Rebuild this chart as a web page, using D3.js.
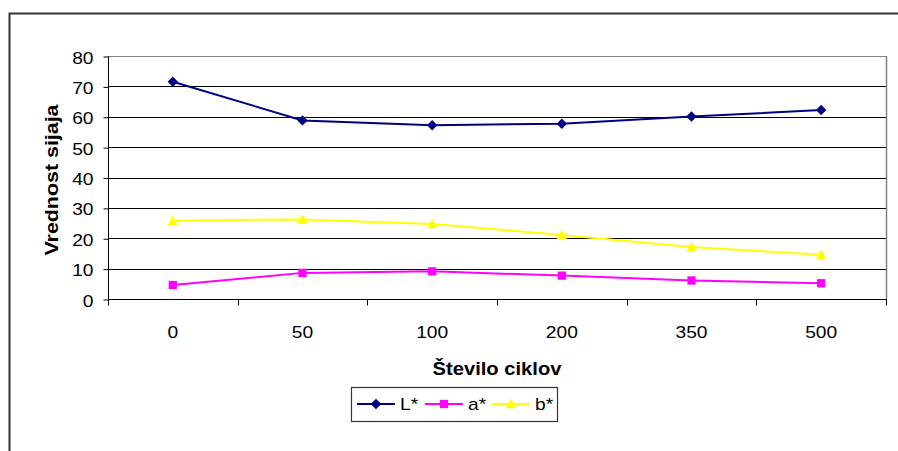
<!DOCTYPE html>
<html>
<head>
<meta charset="utf-8">
<script src="https://cdn.jsdelivr.net/npm/d3@7"></script>
<style>
  html, body { margin: 0; padding: 0; background: #fff; }
  svg { display: block; font-family: Arial, "Liberation Sans", sans-serif; }
</style>
</head>
<body>
<svg id="chart" width="898" height="451"></svg>
<script>
// Number of cleaning cycles (categories) and gloss values per colour coordinate
const cycles = ["0", "50", "100", "200", "350", "500"];
const seriesNames = ["L*", "a*", "b*"];
const valuesL = [71.5, 58.8, 57.2, 57.7, 60.1, 62.2];
const valuesA = [4.6, 8.6, 9.1, 7.7, 6.1, 5.2];
const valuesB = [25.8, 26.2, 24.7, 21.1, 17.1, 14.6];
const yTicks = [0, 10, 20, 30, 40, 50, 60, 70, 80];
const seriesColors = ["#000080", "#ff00ff", "#ffff00"];

// square diamond marker (a square turned 45 degrees)
const squareDiamond = {
  draw(ctx, size) {
    const r = Math.sqrt(size / 2);
    ctx.moveTo(0, -r); ctx.lineTo(r, 0); ctx.lineTo(0, r); ctx.lineTo(-r, 0); ctx.closePath();
  }
};
// upright triangle marker centred on the point
const markerTriangle = {
  draw(ctx, size) {
    const h = Math.sqrt(size);
    ctx.moveTo(0, -h * 0.55); ctx.lineTo(h * 0.55, h * 0.45); ctx.lineTo(-h * 0.55, h * 0.45); ctx.closePath();
  }
};
const seriesSymbols = [squareDiamond, d3.symbolSquare, markerTriangle];
const symbolSizes = [54, 68, 90];

const series = seriesNames.map((name, i) => ({
  name,
  values: [valuesL, valuesA, valuesB][i],
  color: seriesColors[i],
  symbol: seriesSymbols[i],
  size: symbolSizes[i]
}));

const svg = d3.select("#chart");
const plot = { left: 108, right: 886, top: 56, bottom: 299 };
const stretch = 1.2; // glyphs are set with wide advance widths

// outer frame of the chart object
svg.append("path")
  .attr("d", "M9.5,451 L9.5,13.5 L898,13.5")
  .attr("fill", "none")
  .attr("stroke", "#333")
  .attr("stroke-width", 2);

const x = d3.scaleBand().domain(cycles).range([plot.left, plot.right]).padding(0);
const y = d3.scaleLinear().domain([0, 80]).range([plot.bottom, plot.top]);

// horizontal grid
svg.append("g")
  .selectAll("line")
  .data(yTicks.slice(1))
  .join("line")
  .attr("x1", plot.left).attr("x2", plot.right)
  .attr("y1", d => Math.round(y(d)) + 0.5).attr("y2", d => Math.round(y(d)) + 0.5)
  .attr("stroke", d => d === 80 ? "#808080" : "#000")
  .attr("stroke-width", 1);

// plot area right border
svg.append("line")
  .attr("x1", plot.right + 0.5).attr("x2", plot.right + 0.5)
  .attr("y1", plot.top).attr("y2", plot.bottom)
  .attr("stroke", "#808080").attr("stroke-width", 1.5);

// y axis
const yAxis = d3.axisLeft(y).tickValues(yTicks).tickSize(5).tickPadding(0);
const gy = svg.append("g")
  .attr("transform", `translate(${plot.left + 0.5},0.5)`)
  .call(yAxis);
gy.select(".domain").attr("stroke", "#000").attr("d", `M0,${y(80)}V${y(0)}`);
gy.selectAll(".tick line").attr("stroke", "#000");
gy.selectAll(".tick text")
  .attr("x", null)
  .attr("transform", `translate(-15,1.5) scale(${stretch},1)`)
  .attr("font-size", 16).attr("fill", "#000")
  .attr("font-family", "Arial, 'Liberation Sans', sans-serif");

// x axis: ticks between categories, labels centred
const xAxisG = svg.append("g").attr("transform", `translate(0,${Math.round(plot.bottom) + 0.5})`);
xAxisG.append("line")
  .attr("x1", plot.left).attr("x2", plot.right + 1)
  .attr("stroke", "#000");
const boundaries = cycles.map(c => x(c)).concat([x(cycles[cycles.length - 1]) + x.bandwidth()]);
xAxisG.selectAll("line.tk")
  .data(boundaries)
  .join("line")
  .attr("class", "tk")
  .attr("x1", d => Math.round(d) + 0.5).attr("x2", d => Math.round(d) + 0.5)
  .attr("y1", 0).attr("y2", 6)
  .attr("stroke", "#000");
xAxisG.selectAll("text")
  .data(cycles)
  .join("text")
  .attr("transform", d => `translate(${x(d) + x.bandwidth() / 2},38) scale(${stretch},1)`)
  .attr("text-anchor", "middle")
  .attr("font-size", 16)
  .text(d => d);

// axis titles
svg.append("text")
  .attr("transform", `translate(58,180) rotate(-90) scale(1.19,1)`)
  .attr("text-anchor", "middle")
  .attr("font-size", 18)
  .attr("font-weight", "bold")
  .text("Vrednost sijaja");

svg.append("text")
  .attr("transform", `translate(497,375) scale(1.12,1)`)
  .attr("text-anchor", "middle")
  .attr("font-size", 18)
  .attr("font-weight", "bold")
  .text("Število ciklov");

// series lines and markers
const cx = d => x(d) + x.bandwidth() / 2;
const line = d3.line().x((d, i) => cx(cycles[i])).y(d => y(d));

series.forEach(s => {
  svg.append("path")
    .datum(s.values)
    .attr("d", line)
    .attr("fill", "none")
    .attr("stroke", s.color)
    .attr("stroke-width", 2);
  svg.append("g")
    .selectAll("path")
    .data(s.values)
    .join("path")
    .attr("transform", (d, i) => `translate(${cx(cycles[i])},${y(d)})`)
    .attr("d", d3.symbol().type(s.symbol).size(s.size))
    .attr("fill", s.color);
});

// legend
const legend = svg.append("g");
legend.append("rect")
  .attr("x", 351.5).attr("y", 387.5)
  .attr("width", 206).attr("height", 34)
  .attr("fill", "#fff")
  .attr("stroke", "#333")
  .attr("stroke-width", 1.2);

const legendX = [357, 425, 492];
series.forEach((s, i) => {
  const g = legend.append("g").attr("transform", `translate(${legendX[i]},404)`);
  g.append("line").attr("x1", 0).attr("x2", 38).attr("y1", 0).attr("y2", 0)
    .attr("stroke", s.color).attr("stroke-width", 2);
  g.append("path")
    .attr("transform", "translate(19,0)")
    .attr("d", d3.symbol().type(s.symbol).size(s.size))
    .attr("fill", s.color);
  g.append("text")
    .attr("transform", `translate(43,6) scale(${stretch},1)`)
    .attr("font-size", 16)
    .text(s.name);
});
</script>
</body>
</html>
